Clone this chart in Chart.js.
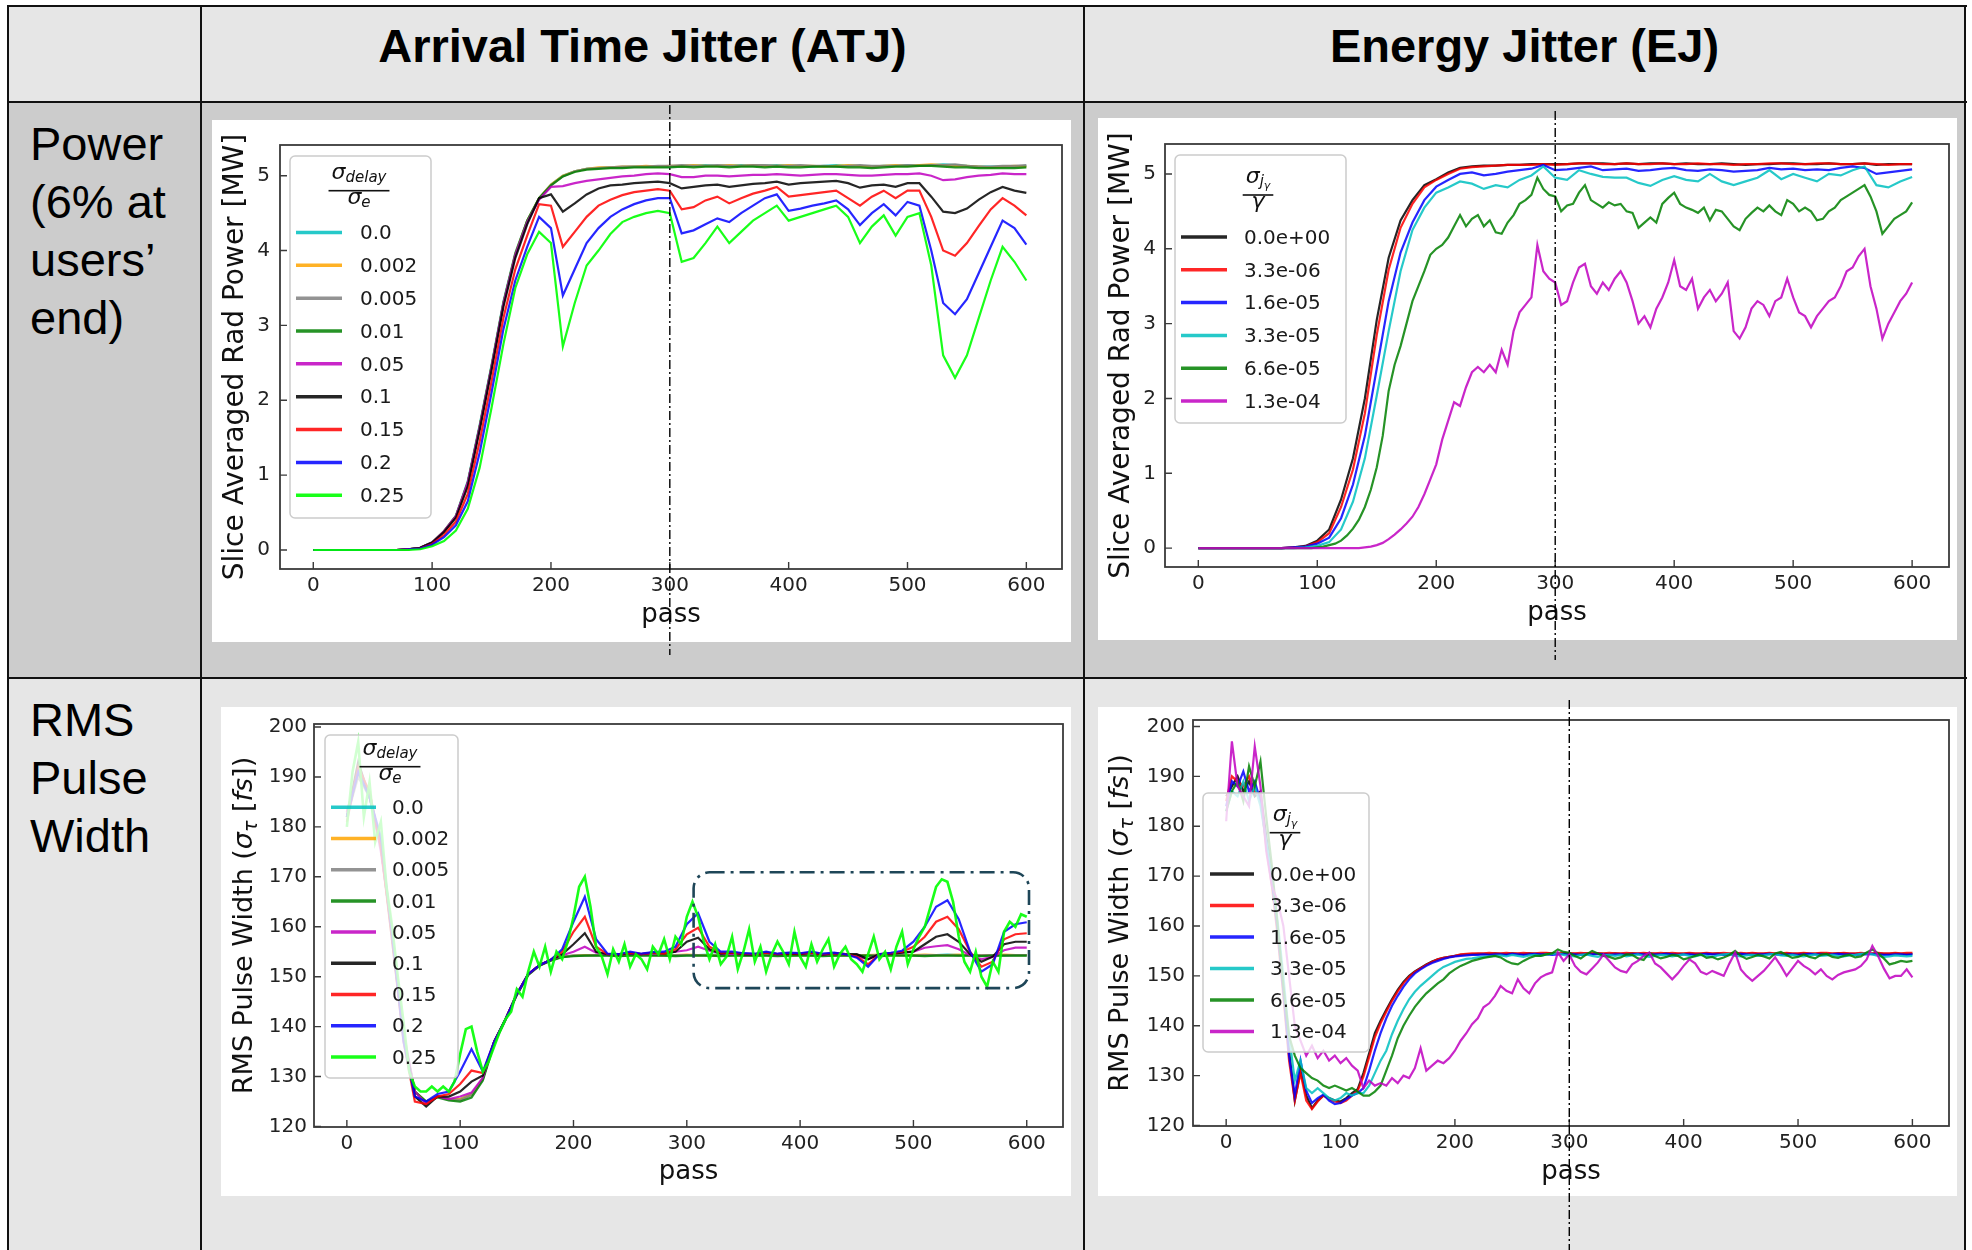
<!DOCTYPE html>
<html>
<head>
<meta charset="utf-8">
<title>Arrival Time Jitter vs Energy Jitter</title>
<script src="https://cdn.jsdelivr.net/npm/chart.js@4.4.1/dist/chart.umd.min.js"></script>
<style>
  body { margin: 0; width: 1972px; height: 1250px; background: #fff; position: relative; overflow: hidden;
         font-family: 'Liberation Sans', Arial, sans-serif; }
  .bg { position: absolute; }
  .rule { position: absolute; background: #111; }
  .head { position: absolute; top: 22px; font-weight: bold; font-size: 47px; line-height: 47px;
          text-align: center; color: #000; white-space: nowrap; }
  .rowlab { position: absolute; left: 30px; font-size: 47px; line-height: 58px; color: #000; }
  canvas { position: absolute; }
</style>
</head>
<body>
<div class="bg" style="left:8px;top:6px;width:1957px;height:96px;background:#e6e6e6"></div>
<div class="bg" style="left:8px;top:102px;width:1957px;height:576px;background:#cccccc"></div>
<div class="bg" style="left:8px;top:678px;width:1957px;height:572px;background:#e6e6e6"></div>

<div class="rule" style="left:7px;top:5px;width:1960px;height:2px"></div>
<div class="rule" style="left:7px;top:101px;width:1960px;height:2px"></div>
<div class="rule" style="left:7px;top:677px;width:1960px;height:2px"></div>
<div class="rule" style="left:7px;top:5px;width:2px;height:1245px"></div>
<div class="rule" style="left:200px;top:5px;width:2px;height:1245px"></div>
<div class="rule" style="left:1083px;top:5px;width:2px;height:1245px"></div>
<div class="rule" style="left:1964px;top:5px;width:2px;height:1245px"></div>

<div class="head" style="left:201px;width:883px">Arrival Time Jitter (ATJ)</div>
<div class="head" style="left:1084px;width:881px">Energy Jitter (EJ)</div>
<div class="rowlab" style="top:115px">Power<br>(6% at<br>users’<br>end)</div>
<div class="rowlab" style="top:691px">RMS<br>Pulse<br>Width</div>

<canvas id="cA"></canvas>
<canvas id="cB"></canvas>
<canvas id="cC"></canvas>
<canvas id="cD"></canvas>

<script>
// ---- pass grids, ticks and labels ----
const passEvery10 = [0,10,20,30,40,50,60,70,80,90,100,110,120,130,140,150,160,170,180,190,200,210,220,230,240,250,260,270,280,290,300,310,320,330,340,350,360,370,380,390,400,410,420,430,440,450,460,470,480,490,500,510,520,530,540,550,560,570,580,590,600];
const passEvery5 = [0,5,10,15,20,25,30,35,40,45,
  50,55,60,65,70,75,80,85,90,95,
  100,105,110,115,120,125,130,135,140,145,
  150,155,160,165,170,175,180,185,190,195,
  200,205,210,215,220,225,230,235,240,245,
  250,255,260,265,270,275,280,285,290,295,
  300,305,310,315,320,325,330,335,340,345,
  350,355,360,365,370,375,380,385,390,395,
  400,405,410,415,420,425,430,435,440,445,
  450,455,460,465,470,475,480,485,490,495,
  500,505,510,515,520,525,530,535,540,545,
  550,555,560,565,570,575,580,585,590,595,
  600];
const passTicks = [0,100,200,300,400,500,600];
const powerTicks = [0,1,2,3,4,5];
const widthTicks = [120,130,140,150,160,170,180,190,200];
const atjLabels = ['0.0','0.002','0.005','0.01','0.05','0.1','0.15','0.2','0.25'];
const ejLabels = ['0.0e+00','3.3e-06','1.6e-05','3.3e-05','6.6e-05','1.3e-04'];

// ---- ATJ: slice averaged power [MW], every 10 passes ----
const atjPower0 = [0,0,0,0,0,0,0,0,0.01,0.03,
  0.1,0.25,0.46,0.92,1.67,2.47,3.32,3.97,4.4,4.7,
  4.88,5.0,5.06,5.09,5.1,5.11,5.11,5.12,5.12,5.12,
  5.12,5.13,5.13,5.14,5.13,5.13,5.14,5.13,5.13,5.14,
  5.13,5.13,5.12,5.13,5.14,5.13,5.13,5.12,5.13,5.13,
  5.14,5.14,5.14,5.15,5.14,5.13,5.12,5.12,5.12,5.12,
  5.13];
const atjPower002 = [0,0,0,0,0,0,0,0,0.01,0.03,
  0.1,0.25,0.45,0.9,1.65,2.45,3.3,3.96,4.4,4.7,
  4.88,5.0,5.06,5.09,5.11,5.11,5.12,5.12,5.13,5.12,
  5.13,5.13,5.14,5.13,5.13,5.14,5.13,5.14,5.13,5.13,
  5.14,5.13,5.13,5.12,5.13,5.14,5.13,5.12,5.13,5.14,
  5.13,5.14,5.15,5.14,5.13,5.13,5.12,5.11,5.12,5.13,
  5.12];
const atjPower005 = [0,0,0,0,0,0,0,0,0.01,0.03,
  0.1,0.24,0.45,0.9,1.64,2.44,3.3,3.95,4.39,4.69,
  4.87,4.99,5.06,5.09,5.1,5.11,5.12,5.12,5.12,5.13,
  5.13,5.14,5.13,5.13,5.14,5.13,5.13,5.14,5.14,5.13,
  5.13,5.14,5.13,5.13,5.12,5.13,5.14,5.13,5.13,5.13,
  5.14,5.13,5.14,5.14,5.15,5.13,5.12,5.12,5.13,5.13,
  5.14];
const atjPower01 = [0,0,0,0,0,0,0,0,0.01,0.03,
  0.1,0.25,0.45,0.9,1.65,2.45,3.3,3.95,4.4,4.7,
  4.87,4.99,5.05,5.08,5.09,5.1,5.1,5.11,5.11,5.11,
  5.11,5.12,5.11,5.12,5.12,5.11,5.12,5.12,5.11,5.12,
  5.11,5.11,5.12,5.12,5.12,5.11,5.11,5.1,5.11,5.12,
  5.12,5.13,5.13,5.12,5.11,5.11,5.1,5.1,5.1,5.1,
  5.11];
const atjPower05 = [0,0,0,0,0,0,0,0,0.01,0.03,
  0.1,0.25,0.45,0.9,1.64,2.44,3.29,3.94,4.38,4.68,
  4.85,4.86,4.9,4.93,4.95,4.97,4.99,5.0,5.02,5.03,
  5.02,4.98,4.98,5.0,5.0,4.99,5.0,5.01,5.01,5.02,
  5.01,5.0,5.01,5.02,5.02,5.01,5.0,5.0,5.01,5.02,
  5.02,5.03,5.0,4.94,4.95,4.98,5.0,5.01,5.03,5.02,
  5.02];
const atjPower10 = [0,0,0,0,0,0,0,0,0.01,0.03,
  0.1,0.24,0.43,0.85,1.6,2.4,3.25,3.9,4.35,4.7,
  4.75,4.52,4.63,4.75,4.83,4.87,4.88,4.9,4.91,4.92,
  4.9,4.83,4.85,4.87,4.88,4.85,4.87,4.89,4.9,4.92,
  4.88,4.9,4.91,4.92,4.93,4.9,4.84,4.87,4.88,4.85,
  4.9,4.9,4.72,4.52,4.5,4.56,4.68,4.78,4.85,4.8,
  4.77];
const atjPower15 = [0,0,0,0,0,0,0,0,0.01,0.02,
  0.08,0.2,0.38,0.75,1.45,2.25,3.1,3.75,4.2,4.62,
  4.6,4.05,4.25,4.45,4.6,4.68,4.74,4.78,4.8,4.82,
  4.8,4.55,4.58,4.67,4.72,4.63,4.7,4.76,4.8,4.85,
  4.72,4.74,4.76,4.78,4.8,4.7,4.6,4.72,4.8,4.7,
  4.8,4.8,4.45,4.0,3.93,4.1,4.33,4.55,4.7,4.6,
  4.47];
const atjPower20 = [0,0,0,0,0,0,0,0,0.01,0.02,
  0.07,0.17,0.33,0.65,1.3,2.1,2.95,3.6,4.05,4.45,
  4.3,3.4,3.75,4.1,4.3,4.45,4.55,4.62,4.67,4.7,
  4.7,4.23,4.27,4.35,4.43,4.38,4.5,4.6,4.7,4.75,
  4.53,4.56,4.6,4.63,4.67,4.55,4.34,4.5,4.62,4.47,
  4.65,4.6,4.0,3.3,3.15,3.35,3.7,4.05,4.4,4.3,
  4.08];
const atjPower25 = [0,0,0,0,0,0,0,0,0,0.01,
  0.05,0.12,0.26,0.55,1.1,1.9,2.75,3.5,3.95,4.25,
  4.1,2.72,3.3,3.8,4.0,4.22,4.38,4.45,4.5,4.53,
  4.5,3.85,3.9,4.1,4.32,4.1,4.25,4.4,4.5,4.6,
  4.4,4.45,4.5,4.55,4.6,4.45,4.1,4.32,4.47,4.2,
  4.45,4.5,3.8,2.6,2.3,2.6,3.1,3.6,4.05,3.85,
  3.6];

// ---- EJ: slice averaged power [MW] ----
const ejPower0 = [0,0,0,0,0,0,0,0,0.01,0.03,
  0.1,0.25,0.65,1.2,2.0,3.05,3.88,4.38,4.65,4.85,
  4.93,5.02,5.08,5.1,5.11,5.11,5.12,5.12,5.13,5.13,
  5.13,5.13,5.14,5.14,5.14,5.13,5.14,5.13,5.14,5.14,
  5.13,5.14,5.13,5.13,5.14,5.13,5.12,5.13,5.13,5.14,
  5.14,5.13,5.13,5.14,5.13,5.13,5.14,5.12,5.13,5.13,
  5.13];
const ejPower33e6 = [0,0,0,0,0,0,0,0,0.01,0.02,
  0.08,0.2,0.55,1.05,1.8,2.85,3.72,4.28,4.6,4.82,
  4.92,5.0,5.07,5.09,5.1,5.11,5.12,5.12,5.12,5.13,
  5.12,5.13,5.14,5.14,5.13,5.13,5.14,5.13,5.13,5.14,
  5.13,5.13,5.14,5.13,5.13,5.12,5.13,5.13,5.14,5.14,
  5.13,5.13,5.14,5.14,5.13,5.13,5.14,5.13,5.12,5.13,
  5.13];
const ejPower16e5 = [0,0,0,0,0,0,0,0,0.01,0.02,
  0.06,0.14,0.4,0.85,1.5,2.4,3.3,3.95,4.35,4.65,
  4.83,4.92,5.0,5.02,4.98,5.0,5.03,5.05,5.07,5.12,
  5.05,5.06,5.08,5.1,5.05,5.06,5.07,5.04,5.05,5.07,
  5.08,5.05,5.04,5.06,5.05,5.03,5.04,5.05,5.08,5.06,
  5.07,5.05,5.06,5.05,5.08,5.1,5.08,5.0,5.02,5.04,
  5.06];
const ejPower33e5 = [0,0,0,0,0,0,0,0,0,0.01,
  0.03,0.08,0.25,0.62,1.2,2.04,2.9,3.7,4.25,4.55,
  4.75,4.82,4.9,4.87,4.8,4.85,4.82,4.92,4.98,5.1,
  4.95,4.92,5.05,5.0,4.96,4.95,4.95,4.88,4.84,4.92,
  4.97,4.92,4.9,5.0,4.9,4.85,4.9,4.95,5.05,4.93,
  5.0,4.95,4.9,5.0,4.98,5.05,5.1,4.85,4.82,4.9,
  4.96];
// every 5 passes
const ejPower66e5 = [0,0,0,0,0,0,0,0,0,0,
  0,0,0,0,0,0,0,0,0,0,
  0.01,0.02,0.04,0.06,0.1,0.17,0.26,0.38,0.55,0.78,
  1.08,1.5,2.1,2.45,2.7,3.0,3.3,3.5,3.7,3.92,
  4.0,4.05,4.15,4.3,4.45,4.3,4.4,4.45,4.3,4.38,
  4.22,4.2,4.35,4.45,4.6,4.65,4.72,4.95,4.8,4.72,
  4.7,4.5,4.58,4.6,4.75,4.85,4.65,4.6,4.55,4.62,
  4.58,4.6,4.5,4.48,4.28,4.35,4.42,4.35,4.6,4.68,
  4.75,4.6,4.55,4.52,4.48,4.55,4.38,4.52,4.5,4.4,
  4.3,4.25,4.4,4.48,4.55,4.5,4.58,4.5,4.45,4.65,
  4.6,4.5,4.55,4.5,4.38,4.4,4.5,4.55,4.65,4.7,
  4.75,4.8,4.85,4.7,4.5,4.2,4.3,4.4,4.45,4.5,
  4.62];
const ejPower13e4 = [0,0,0,0,0,0,0,0,0,0,
  0,0,0,0,0,0,0,0,0,0,
  0,0,0,0,0,0,0,0,0.01,0.02,
  0.04,0.07,0.12,0.18,0.25,0.33,0.42,0.55,0.72,0.92,
  1.12,1.45,1.7,1.95,1.9,2.15,2.35,2.42,2.35,2.45,
  2.35,2.65,2.45,2.9,3.15,3.25,3.35,4.05,3.7,3.6,
  3.55,3.25,3.3,3.55,3.75,3.8,3.5,3.4,3.55,3.45,
  3.6,3.7,3.55,3.3,3.0,3.1,2.95,3.2,3.35,3.55,
  3.85,3.5,3.45,3.6,3.2,3.35,3.45,3.3,3.4,3.55,
  2.9,2.8,2.95,3.2,3.3,3.25,3.1,3.3,3.35,3.6,
  3.35,3.15,3.1,2.95,3.1,3.2,3.3,3.35,3.5,3.7,
  3.75,3.9,4.0,3.5,3.2,2.8,3.0,3.15,3.3,3.4,
  3.55];

// ---- ATJ: RMS pulse width [fs], every 10 passes (0.25 every 5) ----
const atjWidth0 = [182,192,186,176,158,138,127,125,126,125.5,
  125.5,126.5,129.5,137,141.5,146.5,150.5,152.3,153.3,154,
  154.2,154.3,154.3,154.3,154.2,154.3,154.3,154.4,154.3,154.3,
  154.3,154.3,154.4,154.3,154.3,154.3,154.2,154.3,154.3,154.3,
  154.4,154.3,154.3,154.3,154.3,154.2,154.3,154.3,154.4,154.3,
  154.3,154.3,154.3,154.4,154.3,154.3,154.2,154.3,154.3,154.3,
  154.3];
const atjWidth002 = [183,191,187,176,158,138,127,125,126,125.5,
  125.5,126.4,129.6,136.9,141.5,146.5,150.5,152.3,153.3,154,
  154.2,154.3,154.3,154.4,154.3,154.3,154.4,154.3,154.3,154.3,
  154.4,154.3,154.3,154.3,154.4,154.3,154.3,154.3,154.4,154.3,
  154.3,154.3,154.4,154.3,154.3,154.3,154.3,154.4,154.3,154.3,
  154.3,154.4,154.3,154.3,154.4,154.3,154.3,154.3,154.4,154.3,
  154.3];
const atjWidth005 = [182,190,186,177,157,138,126,125,126,125.5,
  125.3,126.3,129.5,136.8,141.4,146.4,150.4,152.3,153.3,154,
  154.2,154.2,154.3,154.3,154.2,154.3,154.3,154.3,154.2,154.3,
  154.3,154.3,154.2,154.3,154.3,154.2,154.3,154.3,154.3,154.2,
  154.3,154.3,154.3,154.2,154.3,154.3,154.2,154.3,154.3,154.3,
  154.2,154.3,154.3,154.3,154.2,154.3,154.3,154.3,154.2,154.3,
  154.3];
const atjWidth01 = [182,191,186,176,158,138,127,125,125.8,125.2,
  125,125.8,129.2,136.6,141.3,146.3,150.3,152.2,153.2,153.9,
  154.1,154.2,154.2,154.2,154.1,154.2,154.2,154.2,154.2,154.1,
  154.2,154.2,154.2,154.1,154.2,154.2,154.2,154.2,154.1,154.2,
  154.2,154.2,154.1,154.2,154.2,154.2,154.2,154.1,154.2,154.2,
  154.2,154.1,154.2,154.2,154.2,154.2,154.1,154.2,154.2,154.2,
  154.2];
const atjWidth05 = [183,191,187,175,159,139,127,124.5,126,125.5,
  126,126.8,129.8,137,141.5,146.5,150.5,152.3,153.4,154.3,
  155,156,154.8,154.5,154.4,154.6,154.5,154.6,154.8,155,
  155.3,156,155.2,154.6,154.5,154.6,154.4,154.8,154.5,154.6,
  154.5,154.7,154.4,154.6,154.5,154,153.5,154.5,154.6,154.8,
  155,155.8,156.1,156.3,155.5,154.3,153.5,154,155.3,155.8,
  155.8];
const atjWidth10 = [182,193,186,177,158,138,126,124,126,126,
  127,129,130.2,137,141.5,146.5,150.5,152.3,153.4,154.5,
  156.5,158.7,155,154.5,154.4,154.7,154.5,154.8,154.6,155,
  157,157.8,155.5,154.6,154.8,154.5,154.4,154.8,154.5,154.6,
  154.5,154.8,154.4,154.7,154.5,154.5,153.5,154.5,154.6,154.8,
  155,156.5,158,158.5,157,154.5,153,154,156.5,157,
  157];
const atjWidth15 = [181,192,187,176,157,137,125,124.5,126,126.5,
  128.5,131.2,130.7,137,141.5,146.5,150.5,152.3,153.4,155,
  159,162,156,154.5,154.5,154.8,154.5,154.8,154.6,155.5,
  158.5,159.8,156,154.8,154.8,154.6,154.5,154.8,154.5,154.7,
  154.6,154.8,154.5,154.7,154.5,154,152.5,154.5,154.7,155,
  156,158,161,162,159.5,155,152,153,157.5,158.5,
  158.7];
const atjWidth20 = [182,191,186,178,158,137,126,125,126.5,127,
  131,135.5,131,137,141.5,146.5,150.5,152.3,153.4,155.5,
  161,166,157.5,154.6,154.5,155,154.6,154.9,155,156,
  160.5,162.7,157,155,155,154.7,154.6,155,154.6,154.8,
  154.7,155,154.6,154.8,154.5,153.8,152,154.5,154.8,155.2,
  157,160,164,165.3,161.5,155,151,152.5,159,160.5,
  160.9];
const atjWidth25 = [180,191,197,182,189,177,181,168,160,150,
  141,131,128,127,127,128,127,128,127,129,
  134.5,139.5,140,135,131,133,136,139,141.5,143,
  147.5,146,151,155,152,156,151,155,153.5,157,
  162,168,170,164,156,154,150.5,155.5,153,156.5,
  152,154.5,153.5,151.5,156,154.5,157.5,153.5,158,156.5,
  162,165,162,157,153.5,156.5,152.5,154,158,151.5,
  155,159.5,153,156,151,154.5,157,155,152.5,159,
  154,152,156.5,153,155.5,157.5,152,154.5,156,153.5,
  152.5,151,154.5,158,153.5,155,151.5,156,159,152.5,
  155.5,158,160,164,168,169.5,169,165,158,153,
  151,155,150,148,153,151,159,161,160,162.5,
  162];

// ---- EJ: RMS pulse width [fs], every 5 passes ----
const ejWidth0 = [186,188,190,187,189,186,187,178,170,160,
  148,135,125,131,126,123.5,125,126,125.5,125,
  124.8,125.5,126.5,127.3,130.5,134.5,138.5,141,143.2,145.3,
  147.2,148.8,150,150.9,151.6,152.3,152.9,153.3,153.6,153.8,
  154,154.2,154.3,154.3,154.4,154.4,154.4,154.5,154.4,154.4,
  154.5,154.4,154.4,154.5,154.4,154.4,154.5,154.5,154.4,154.5,
  154.5,154.4,154.4,154.5,154.4,154.5,154.4,154.4,154.5,154.4,
  154.4,154.5,154.4,154.4,154.5,154.4,154.4,154.5,154.4,154.4,
  154.4,154.5,154.4,154.4,154.5,154.4,154.5,154.4,154.4,154.5,
  154.4,154.4,154.5,154.4,154.4,154.5,154.4,154.4,154.5,154.4,
  154.4,154.5,154.4,154.4,154.5,154.4,154.4,154.5,154.5,154.4,
  154.4,154.5,154.4,154.4,154.5,154.4,154.4,154.5,154.4,154.4,
  154.4];
const ejWidth33e6 = [185,190,189,188,190,187,186,176,168,158,
  146,133,125,130.5,125,123.3,124.8,126,125.3,124.8,
  124.5,125,126,127,129.8,133.7,137.7,140.5,142.8,145,
  146.9,148.5,149.8,150.8,151.5,152.2,152.8,153.3,153.6,153.8,
  154,154.3,154.4,154.5,154.5,154.5,154.6,154.5,154.5,154.6,
  154.5,154.5,154.6,154.5,154.5,154.6,154.6,154.5,154.5,154.6,
  154.5,154.5,154.6,154.5,154.6,154.5,154.5,154.6,154.5,154.5,
  154.6,154.5,154.5,154.6,154.5,154.5,154.6,154.5,154.6,154.5,
  154.5,154.6,154.5,154.5,154.6,154.5,154.5,154.6,154.5,154.5,
  154.6,154.5,154.6,154.5,154.5,154.6,154.5,154.5,154.6,154.5,
  154.5,154.6,154.5,154.5,154.6,154.6,154.5,154.5,154.6,154.5,
  154.5,154.6,154.5,154.5,154.6,154.5,154.5,154.6,154.5,154.6,
  154.6];
const ejWidth16e5 = [184,189,188,191,187,189,185,177,169,159,
  147,134,126,133,127,124.5,125.5,126.2,125,124.3,
  124.5,125.3,126,126.5,127.5,131,135,138.5,141.5,144,
  146,147.8,149.3,150.5,151.3,152,152.6,153,153.4,153.7,
  153.9,154,154.1,154.2,154.2,154.3,154.2,154.3,154.3,154.2,
  154.4,154.3,154.2,154.3,154.4,154.3,154.3,154.2,154.3,154.4,
  154.4,154.3,154.2,154.3,154.3,154.4,154.3,154.2,154.3,154.3,
  154.2,154.3,154.4,154.3,154.2,154.3,154.3,154.4,154.3,154.2,
  154.3,154.3,154.2,154.3,154.4,154.3,154.3,154.2,154.3,154.3,
  154.4,154.3,154.2,154.3,154.3,154.4,154.3,154.2,154.3,154.3,
  154.2,154.3,154.4,154.3,154.3,154.2,154.3,154.4,154.3,154.3,
  154.2,154.3,154.3,154.4,154.3,154.2,154.2,154.3,154.3,154.2,
  154.3];
const ejWidth33e5 = [183,187,186,189,185,188,184,177,170,161,
  150,138,129,133,127.5,126.5,127.5,126.5,125.5,125,
  125.5,126.5,126,126.5,126.5,128,130.5,133,135,138.3,
  141,143.3,145.3,146.8,148,149,150,151,151.8,152.3,
  152.8,153.1,153.4,153.5,153.7,153.8,153.9,154,
  154.1,153.9,154.2,154,153.8,154.1,154.2,154,154.3,154.4,
  154.5,154.2,154,153.9,154.2,154.3,154,153.8,154.1,154.2,
  154,154.2,153.9,154.1,154.3,154,153.8,154,154.2,154.1,
  153.9,154.1,154.3,154,153.9,154.2,154,153.8,154.1,154.3,
  154.4,154,153.9,154.1,154.2,154,154.1,154.3,154.4,154.1,
  154,154.2,154,153.9,154.1,154.3,154,154.1,154.2,154,
  153.9,154.1,154.2,154.4,154.5,154.3,154,153.8,153.9,154.1,
  154,153.9,154];
const ejWidth66e5 = [183,187,189,185,192,188,193,182,172,160,
  148,138,134,131.5,130.5,129.5,129,128,127.5,128,
  127.5,127,127.5,126.8,126,126,126.8,128,131,134,
  137.5,140,142,143.8,145.2,146.5,147.5,148.5,149.3,150.5,
  151.3,152,152.5,153,153.3,153.6,153.8,154,153.7,153,
  152.5,152.3,153,153.6,154,154,154.3,154.5,155.3,154.8,
  154.6,154,153.5,154.3,155,154.5,154,153.8,153.4,153.7,
  154.3,154.2,153.5,153.2,154.6,154,153.5,153.8,154.2,154,
  153.3,153.6,154,154.3,153.6,153.8,153.3,153.7,154.2,155,
  154,153.4,153.8,154.2,153.9,153.5,154.5,154.8,154.2,153.6,
  153.8,154.3,153.8,153.5,154.2,154.4,153.8,153.6,154,154.2,
  153.7,153.9,154.7,155.3,154.5,153.5,152.3,152.6,153,152.8,
  153];
const ejWidth13e4 = [181,197,188,186,184,196,188,175,168,165,
  160,150,140,137,134,136,133.5,135,133,134,
  132.5,133.5,132,131,127.5,129,128,128.5,128,129.5,
  128.5,130,129.5,131.5,135.5,131,132,133,132.5,133.5,
  135,137,138.5,140.3,141.5,143.7,144.5,146,148,147,
  146.5,149.3,147.5,146.5,148.5,149.7,150.3,150.7,154.7,153,
  154.3,152,150.8,150.3,151.5,152.7,154.3,153,151.7,151,
  150.7,152.3,153,154,154.7,152.5,151.7,150.5,149.3,150.5,
  152,153.3,152.5,150.8,150.3,151,150.5,150,152.5,154.7,
  151.3,150,149,150,151,152.3,153.7,152,150,151.5,
  153,152,151.3,150.3,151.3,150,149.3,150.2,150.7,151,
  151.3,152,153.3,156,154,151.5,149.5,150,150,151.3,
  149.7];

// C panel highlight, in pass / fs units
const focusBox = [306, 602, 147.7, 170.9];

// ---- styles ----
const atjColors = ['rgba(0,191,191,0.85)','rgba(255,165,0,0.85)','rgba(128,128,128,0.85)','rgba(0,128,0,0.85)',
  'rgba(191,0,191,0.85)','rgba(0,0,0,0.85)','rgba(255,0,0,0.85)','rgba(0,0,255,0.85)','rgba(0,255,0,0.9)'];
const ejColors = ['rgba(0,0,0,0.85)','rgba(255,0,0,0.85)','rgba(0,0,255,0.85)','rgba(0,191,191,0.85)',
  'rgba(0,128,0,0.85)','rgba(191,0,191,0.85)'];

const FONT = "'DejaVu Sans'";
Chart.defaults.font.family = FONT + ", sans-serif";
Chart.defaults.color = '#222';

const powerTitle = [{ t: 'Slice Averaged Rad Power [MW]', size: 28 }];
const widthTitle = [
  { t: 'RMS Pulse Width (', size: 27 }, { t: 'σ', size: 27, it: true }, { t: 'τ', size: 19, it: true, dy: 5 },
  { t: ' [', size: 27 }, { t: 'fs', size: 27, it: true }, { t: '])', size: 27 }
];
const atjNum = [{ t: 'σ', size: 22, it: true }, { t: 'delay', size: 15, it: true, dy: 3 }];
const atjDen = [{ t: 'σ', size: 22, it: true }, { t: 'e', size: 15, it: true, dy: 3 }];
const ejNum = [{ t: 'σ', size: 22, it: true }, { t: 'j', size: 15, it: true, dy: 3 }, { t: 'γ', size: 11, it: true, dy: 6 }];
const ejDen = [{ t: 'γ', size: 22, it: true }];

// ---- text helpers ----
function setFont(ctx, p) {
  ctx.font = (p.it ? 'italic ' : '') + p.size + 'px ' + FONT;
}
function richWidth(ctx, parts) {
  let w = 0;
  parts.forEach(p => { setFont(ctx, p); w += ctx.measureText(p.t).width; });
  return w;
}
function drawRich(ctx, parts, x, y) {
  let cx = x;
  parts.forEach(p => {
    setFont(ctx, p);
    ctx.fillText(p.t, cx, y + (p.dy || 0));
    cx += ctx.measureText(p.t).width;
  });
}
function roundRectPath(ctx, x, y, w, h, r) {
  ctx.beginPath();
  ctx.moveTo(x + r, y);
  ctx.arcTo(x + w, y, x + w, y + h, r);
  ctx.arcTo(x + w, y + h, x, y + h, r);
  ctx.arcTo(x, y + h, x, y, r);
  ctx.arcTo(x, y, x + w, y, r);
  ctx.closePath();
}

function makeChart(c) {
  const cv = document.getElementById(c.id);
  const [ox, oy, cw, ch] = c.canvas;
  cv.style.left = ox + 'px';
  cv.style.top = oy + 'px';
  cv.width = cw;
  cv.height = ch;

  const [pl, pt, pr, pb] = c.plot;
  const yW = 60;
  const xH = c.xTitleY - pb + 26 * 1.2 / 2;
  const padding = { left: pl - ox - yW, top: pt - oy, right: ox + cw - pr, bottom: oy + ch - pb - xH };

  const n = c.series.length;
  const datasets = c.series.map((s, i) => ({
    label: s.label,
    data: s.xs.map((x, k) => ({ x: x, y: s.ys[k] })),
    borderColor: s.color,
    borderWidth: s.width || c.lineWidth,
    pointRadius: 0,
    tension: 0,
    fill: false,
    order: n - i
  }));

  const deco = {
    id: 'deco',
    beforeDraw(chart) {
      const ctx = chart.ctx;
      const [a, b, r, d] = c.panel;
      ctx.save();
      ctx.fillStyle = '#fff';
      ctx.fillRect(a - ox, b - oy, r - a, d - b);
      ctx.restore();
    },
    afterDatasetsDraw(chart) {
      const ctx = chart.ctx;
      const area = chart.chartArea;
      const xs = chart.scales.x, ys = chart.scales.y;
      ctx.save();

      // legend
      const lg = c.legend;
      const [bl, bt, br, bb] = lg.box;
      roundRectPath(ctx, bl - ox, bt - oy, br - bl, bb - bt, 5);
      ctx.fillStyle = 'rgba(255,255,255,0.8)';
      ctx.fill();
      ctx.strokeStyle = '#cccccc';
      ctx.lineWidth = 1.5;
      ctx.stroke();

      ctx.fillStyle = '#111';
      ctx.textBaseline = 'alphabetic';
      const wn = richWidth(ctx, lg.num), wd = richWidth(ctx, lg.den);
      const tx = lg.titleX - ox, by = lg.barY - oy;
      drawRich(ctx, lg.num, tx - wn / 2, by - 12);
      drawRich(ctx, lg.den, tx - wd / 2, by + 13);
      const bw = Math.max(wn, wd) + 6;
      ctx.fillRect(tx - bw / 2, by - 0.8, bw, 1.6);

      chart.data.datasets.forEach((ds, i) => {
        const y = lg.firstY + i * lg.step - oy;
        ctx.strokeStyle = ds.borderColor;
        ctx.lineWidth = 3.5;
        ctx.beginPath();
        ctx.moveTo(lg.line[0] - ox, y);
        ctx.lineTo(lg.line[1] - ox, y);
        ctx.stroke();
        ctx.fillStyle = '#1a1a1a';
        ctx.font = '20px ' + FONT;
        ctx.textBaseline = 'middle';
        ctx.fillText(ds.label, lg.textX - ox, y + 1.5);
      });

      // axes frame with inward ticks
      ctx.strokeStyle = '#3a3a3a';
      ctx.lineWidth = 1.8;
      ctx.strokeRect(area.left, area.top, area.right - area.left, area.bottom - area.top);
      ctx.lineWidth = 1.4;
      ctx.beginPath();
      xs.ticks.forEach(t => {
        const px = xs.getPixelForValue(t.value);
        ctx.moveTo(px, area.bottom);
        ctx.lineTo(px, area.bottom - 7);
      });
      ys.ticks.forEach(t => {
        const py = ys.getPixelForValue(t.value);
        ctx.moveTo(area.left, py);
        ctx.lineTo(area.left + 7, py);
      });
      ctx.stroke();

      // rotated y-axis title
      const tw = richWidth(ctx, c.yTitle);
      ctx.translate(c.yTitleX - ox, (area.top + area.bottom) / 2);
      ctx.rotate(-Math.PI / 2);
      ctx.fillStyle = '#111';
      ctx.textBaseline = 'alphabetic';
      drawRich(ctx, c.yTitle, -tw / 2, c.yTitle[0].size * 0.27);
      ctx.restore();
    },
    afterDraw(chart) {
      const ctx = chart.ctx;
      const xs = chart.scales.x, ys = chart.scales.y;
      ctx.save();
      if (c.vline) {
        const px = xs.getPixelForValue(300);
        ctx.strokeStyle = '#000';
        ctx.lineWidth = 1.4;
        ctx.setLineDash([9, 3, 2, 3]);
        ctx.beginPath();
        ctx.moveTo(px, c.vline[0] - oy);
        ctx.lineTo(px, c.vline[1] - oy);
        ctx.stroke();
      }
      if (c.box) {
        const x0 = xs.getPixelForValue(c.box[0]), x1 = xs.getPixelForValue(c.box[1]);
        const y0 = ys.getPixelForValue(c.box[3]), y1 = ys.getPixelForValue(c.box[2]);
        ctx.strokeStyle = '#1e4658';
        ctx.lineWidth = 2.6;
        ctx.setLineDash([15, 6, 3, 6]);
        roundRectPath(ctx, x0, y0, x1 - x0, y1 - y0, 16);
        ctx.stroke();
      }
      ctx.restore();
    }
  };

  return new Chart(cv, {
    type: 'line',
    data: { datasets: datasets },
    options: {
      responsive: false,
      animation: false,
      events: [],
      layout: { padding: padding },
      plugins: { legend: { display: false }, tooltip: { enabled: false } },
      scales: {
        x: {
          type: 'linear',
          min: c.xRange[0], max: c.xRange[1],
          grid: { display: false, drawTicks: false },
          border: { display: false },
          afterBuildTicks: s => { s.ticks = passTicks.map(v => ({ value: v })); },
          afterFit: s => { s.height = xH; },
          ticks: { font: { size: 20 }, color: '#222', padding: 5, maxRotation: 0, autoSkip: false },
          title: { display: true, text: 'pass', font: { size: 26 }, color: '#111', padding: 0 }
        },
        y: {
          type: 'linear',
          min: c.yRange[0], max: c.yRange[1],
          grid: { display: false, drawTicks: false },
          border: { display: false },
          afterBuildTicks: s => { s.ticks = c.yTicks.map(v => ({ value: v })); },
          afterFit: s => { s.width = yW; },
          ticks: { font: { size: 20 }, color: '#222', padding: c.yTickPad, autoSkip: false }
        }
      }
    },
    plugins: [deco]
  });
}

makeChart({
  id: 'cA', canvas: [202, 103, 881, 574], panel: [212, 120, 1071, 642], plot: [280, 145, 1062, 569],
  xRange: [-28, 630], yRange: [-0.254, 5.41], yTicks: powerTicks, yTickPad: 10,
  yTitle: powerTitle, yTitleX: 235, xTitleY: 615, lineWidth: 2.2,
  vline: [105, 655],
  legend: { box: [290, 156, 431, 518], firstY: 232.5, step: 32.84, line: [296, 342], textX: 360,
            titleX: 359, barY: 190.7, num: atjNum, den: atjDen },
  series: [atjPower0, atjPower002, atjPower005, atjPower01, atjPower05, atjPower10, atjPower15, atjPower20, atjPower25]
    .map((ys, i) => ({ label: atjLabels[i], xs: passEvery10, ys: ys, color: atjColors[i] }))
});

makeChart({
  id: 'cB', canvas: [1085, 103, 879, 574], panel: [1098, 118, 1957, 640], plot: [1165, 144, 1949, 567],
  xRange: [-28, 631], yRange: [-0.252, 5.4], yTicks: powerTicks, yTickPad: 9,
  yTitle: powerTitle, yTitleX: 1121, xTitleY: 613, lineWidth: 2.2,
  vline: [111, 660],
  legend: { box: [1175, 155, 1346, 423], firstY: 237, step: 32.8, line: [1181, 1227], textX: 1244,
            titleX: 1258, barY: 195, num: ejNum, den: ejDen },
  series: [
    { label: ejLabels[0], xs: passEvery10, ys: ejPower0, color: ejColors[0] },
    { label: ejLabels[1], xs: passEvery10, ys: ejPower33e6, color: ejColors[1] },
    { label: ejLabels[2], xs: passEvery10, ys: ejPower16e5, color: ejColors[2] },
    { label: ejLabels[3], xs: passEvery10, ys: ejPower33e5, color: ejColors[3] },
    { label: ejLabels[4], xs: passEvery5, ys: ejPower66e5, color: ejColors[4] },
    { label: ejLabels[5], xs: passEvery5, ys: ejPower13e4, color: ejColors[5] }
  ]
});

makeChart({
  id: 'cC', canvas: [202, 679, 881, 571], panel: [221, 707, 1071, 1196], plot: [314, 724, 1063, 1127],
  xRange: [-29, 632], yRange: [119.9, 200.6], yTicks: widthTicks, yTickPad: 7,
  yTitle: widthTitle, yTitleX: 245, xTitleY: 1172, lineWidth: 2.2,
  box: focusBox,
  legend: { box: [325, 735, 458, 1078], firstY: 807.3, step: 31.2, line: [331, 376], textX: 392,
            titleX: 390, barY: 766.7, num: atjNum, den: atjDen },
  series: [atjWidth0, atjWidth002, atjWidth005, atjWidth01, atjWidth05, atjWidth10, atjWidth15, atjWidth20]
    .map((ys, i) => ({ label: atjLabels[i], xs: passEvery10, ys: ys, color: atjColors[i] }))
    .concat([{ label: atjLabels[8], xs: passEvery5, ys: atjWidth25, color: atjColors[8], width: 2.6 }])
});

makeChart({
  id: 'cD', canvas: [1085, 679, 879, 571], panel: [1098, 707, 1957, 1196], plot: [1193, 720, 1949, 1126],
  xRange: [-29, 632], yRange: [119.9, 201.3], yTicks: widthTicks, yTickPad: 8,
  yTitle: widthTitle, yTitleX: 1121, xTitleY: 1172, lineWidth: 2.2,
  vline: [700, 1250],
  legend: { box: [1203, 793, 1369, 1052], firstY: 874, step: 31.5, line: [1210, 1254], textX: 1270,
            titleX: 1285, barY: 832.7, num: ejNum, den: ejDen },
  series: [ejWidth0, ejWidth33e6, ejWidth16e5, ejWidth33e5, ejWidth66e5, ejWidth13e4]
    .map((ys, i) => ({ label: ejLabels[i], xs: passEvery5, ys: ys, color: ejColors[i] }))
});
</script>
</body>
</html>
